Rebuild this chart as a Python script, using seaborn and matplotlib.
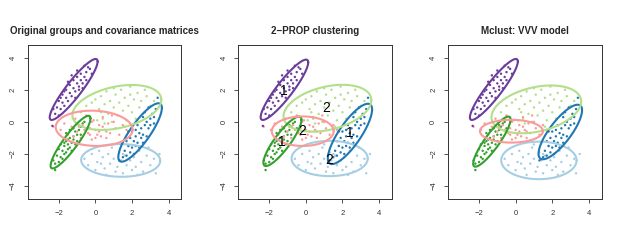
import numpy as np
import pandas as pd
import matplotlib
matplotlib.use("Agg")
import matplotlib.pyplot as plt
import seaborn as sns

# groups and colours (R "Paired" palette)
groups = ["lightblue", "blue", "lightgreen", "green", "pink", "purple"]
colors = ["#A6CEE3", "#1F78B4", "#B2DF8A", "#33A02C", "#FB9A99", "#6A3D9A"]

# points (same data in every panel)
lightblue_x = [-0.6, -0.4, -0.2, 0.0, 0.1, 0.2, 0.4, 0.5, 0.6, 0.7, 0.8, 0.9, 1.0, 1.1, 1.2, 1.3, 1.4, 1.5, 1.6,
               1.7, 1.8, 1.9, 2.0, 2.1, 2.2, 2.4, 2.5, 2.6, 2.8, 3.0, 3.2, 3.3, 3.5, 0.3, 1.0, 2.3, 1.5, 2.9]
lightblue_y = [-2.3, -2.7, -2.0, -3.0, -2.5, -1.8, -2.2, -2.9, -3.3, -2.0, -2.6, -1.6, -2.3, -3.1, -2.8, -1.9, -2.4,
               -3.2, -2.1, -2.7, -1.5, -2.4, -3.0, -2.2, -2.8, -1.8, -2.5, -3.1, -2.1, -2.7, -2.3, -3.2, -2.0, -2.6,
               -1.4, -3.3, -2.0, -1.6]
blue_x = [1.5, 1.7, 1.6, 1.9, 1.8, 2.0, 2.1, 1.9, 2.2, 2.3, 2.4, 2.2, 2.5, 2.6, 2.7, 2.5, 2.8, 2.9, 3.0, 3.1, 3.2,
          3.3, 3.4, 2.3, 2.0, 2.6, 2.8, 1.7, 2.1, 3.0, 2.4, 1.8, 2.7, 3.2, 2.9, 1.3, 2.2, 2.6]
blue_y = [-2.2, -2.1, -1.8, -1.9, -1.5, -1.6, -1.2, -1.0, -0.9, -1.3, -0.7, -0.5, -0.4, -0.8, -0.2, -1.0, 0.0, -0.4,
          0.2, 0.5, 0.3, 0.8, 1.5, -0.2, -0.6, 0.3, -0.9, -1.2, -2.0, -0.2, -1.6, -0.6, 0.6, -0.1, 0.9, -2.4, -1.5,
          -1.3]
lightgreen_x = [-0.8, -0.5, -0.3, 0.0, 0.2, 0.3, 0.4, 0.5, 0.6, 0.7, 0.8, 0.9, 1.0, 1.1, 1.2, 1.3, 1.4, 1.5, 1.6,
                1.7, 1.8, 1.9, 2.0, 2.1, 2.2, 2.3, 2.4, 2.5, 2.6, 2.8, 3.0, 3.2, 0.1, -0.2, 0.5, 1.0, 2.7, 1.6, 0.3,
                1.9]
lightgreen_y = [0.6, 1.0, 0.3, 1.4, 0.8, 1.6, 0.2, 1.1, 1.9, 0.5, 1.3, 0.0, 0.9, 1.7, 0.4, 1.2, 2.0, 0.7, 1.5, 0.1,
                1.0, 2.2, 0.6, 1.4, 0.2, 1.8, 0.9, 1.3, 0.5, 1.6, 1.0, 1.3, 0.1, 1.2, -0.1, 2.1, 2.0, -0.3, 0.6, 1.7]
green_x = [-2.2, -2.0, -2.1, -1.9, -1.8, -2.0, -1.7, -1.6, -1.5, -1.6, -1.4, -1.3, -1.2, -1.4, -1.1, -1.0, -0.9,
           -0.8, -0.7, -0.6, -1.2, -1.5, -1.7, -1.8, -1.3, -1.0, -2.2, -1.9, -0.8, -1.1, -1.6, -0.9, -1.4, -2.3,
           -1.7, -1.2, -0.5, -1.5]
green_y = [-2.6, -2.5, -2.1, -2.2, -1.8, -1.7, -1.5, -1.9, -1.4, -1.2, -1.0, -1.3, -0.9, -1.6, -0.6, -0.8, -0.5,
           -0.3, -0.1, 0.0, -0.4, -1.1, -1.3, -2.3, -1.8, -1.2, -3.0, -1.4, -0.8, -1.4, -0.7, -0.2, -0.5, -2.4,
           -2.0, -1.1, -0.4, -1.7]
pink_x = [-2.3, -1.9, -1.7, -1.5, -1.3, -1.1, -1.0, -0.8, -0.7, -0.5, -0.4, -0.3, -0.2, -0.1, 0.0, 0.1, 0.2, 0.3,
          0.4, 0.5, 0.6, 0.7, 0.8, 1.0, 1.1, 1.3, 1.5, 1.7, -0.6, -0.3, 0.2, -0.9, 0.0, 0.4, -1.2, 0.9, -0.2, 0.6]
pink_y = [-0.3, -0.5, -0.1, -0.8, -0.3, 0.2, -0.6, -1.0, -0.2, 0.4, -0.7, -0.4, -1.1, 0.1, -0.5, -0.8, -0.2, -0.9,
          0.3, -0.5, -1.0, -0.1, -0.7, 0.0, -0.4, -0.8, -0.2, -0.5, -0.5, -0.8, -0.6, -0.3, -1.0, -0.3, -0.9, 0.4,
          0.0, -0.6]
purple_x = [-2.2, -2.0, -2.1, -1.9, -1.8, -2.0, -1.7, -1.6, -1.8, -1.5, -1.4, -1.6, -1.3, -1.2, -1.4, -1.1, -1.0,
            -1.2, -0.9, -0.8, -1.0, -0.7, -0.8, -0.6, -0.5, -0.9, -1.3, -0.4, -0.3, -0.6, -1.5, -1.1, -0.7, -1.7,
            -2.3, -1.0, -0.2, -1.9, -0.5, -2.35]
purple_y = [0.5, 0.4, 0.9, 0.8, 1.2, 1.3, 1.0, 1.5, 1.7, 1.3, 1.8, 2.0, 1.6, 2.1, 2.3, 1.9, 2.4, 2.6, 2.2, 2.6,
            2.8, 2.4, 3.0, 2.8, 3.1, 2.0, 2.9, 3.4, 3.3, 3.5, 2.5, 1.5, 2.1, 1.9, 0.8, 3.2, 3.0, 1.5, 2.6, -0.25]

# ellipses per panel, one row per group: centre x, centre y, half x-extent, half y-extent, x-offset of top point
ell_original = [[1.38, -2.40, 2.16, 1.02, -0.05],
                [2.44, -0.66, 1.19, 1.82, 1.00],
                [1.17, 0.90, 2.43, 1.40, 0.83],
                [-1.36, -1.26, 1.09, 1.64, 0.98],
                [-0.07, -0.40, 2.10, 1.10, -0.15],
                [-1.19, 2.02, 1.31, 1.90, 1.20]]
ell_prop = [[1.30, -2.28, 2.08, 1.10, 0.0],
            [2.41, -0.75, 1.21, 1.88, 0.98],
            [1.18, 0.85, 2.40, 1.46, 0.82],
            [-1.28, -1.21, 1.04, 1.54, 0.90],
            [-0.17, -0.58, 1.69, 0.92, 0.0],
            [-1.17, 2.00, 1.30, 1.88, 1.18]]
ell_mclust = [[1.27, -2.40, 2.06, 1.17, 0.0],
              [2.44, -0.63, 1.19, 1.70, 0.95],
              [1.13, 0.78, 2.45, 1.49, 0.80],
              [-1.30, -1.23, 1.02, 1.56, 0.90],
              [-0.23, -0.58, 1.72, 0.71, 0.0],
              [-1.19, 2.02, 1.31, 1.90, 1.20]]

# 2-PROP cluster labels
lab_text = ["2", "1", "2", "1", "2", "1"]
lab_x = [1.27, 2.39, 1.12, -1.32, -0.18, -1.20]
lab_y = [-2.37, -0.71, 0.85, -1.23, -0.56, 1.90]

titles = ["Original groups and covariance matrices", "2\u2212PROP clustering", "Mclust: VVV model"]

xs = [lightblue_x, blue_x, lightgreen_x, green_x, pink_x, purple_x]
ys = [lightblue_y, blue_y, lightgreen_y, green_y, pink_y, purple_y]
df = pd.concat([pd.DataFrame({"x": x, "y": y, "group": g}) for x, y, g in zip(xs, ys, groups)])
palette = dict(zip(groups, colors))

sns.set_theme(style="ticks")
plt.rcParams["font.family"] = ["Liberation Sans", "DejaVu Sans"]

fig = plt.figure(figsize=(6.3, 2.45), dpi=100)
lefts = [0.044, 0.378, 0.711]
t = np.linspace(0, 2 * np.pi, 200)

for k, ells in enumerate([ell_original, ell_prop, ell_mclust]):
    ax = fig.add_axes([lefts[k], 0.188, 0.244, 0.629])
    sns.scatterplot(data=df, x="x", y="y", hue="group", palette=palette, s=3, linewidth=0,
                    legend=False, ax=ax)
    for g, (cx, cy, hx, hy, tx) in zip(groups, ells):
        cov = np.array([[hx ** 2, tx * hy], [tx * hy, hy ** 2]])
        L = np.linalg.cholesky(cov)
        pts = L @ np.vstack([np.cos(t), np.sin(t)])
        ax.plot(cx + pts[0], cy + pts[1], color=palette[g], lw=1.5)
    if k == 1:
        for s, lx, ly in zip(lab_text, lab_x, lab_y):
            ax.text(lx, ly, s, fontsize=10, ha="center", va="center", color="black")
    ax.set_xlim(-3.7, 4.7)
    ax.set_ylim(-4.8, 4.8)
    ax.set_xticks([-2, 0, 2, 4])
    ax.set_yticks([-4, -2, 0, 2, 4])
    ax.set_xlabel("")
    ax.set_ylabel("")
    ax.tick_params(labelsize=5.5, length=3.2, width=0.6, pad=4.5, colors="#333333")
    for lbl in ax.get_yticklabels():
        lbl.set_rotation(90)
        lbl.set_va("center")
    for sp in ax.spines.values():
        sp.set_linewidth(0.7)
        sp.set_color("#333333")
    ax.set_title(titles[k], fontsize=7, fontweight="bold", pad=8)

fig.savefig("out.png", dpi=100)
